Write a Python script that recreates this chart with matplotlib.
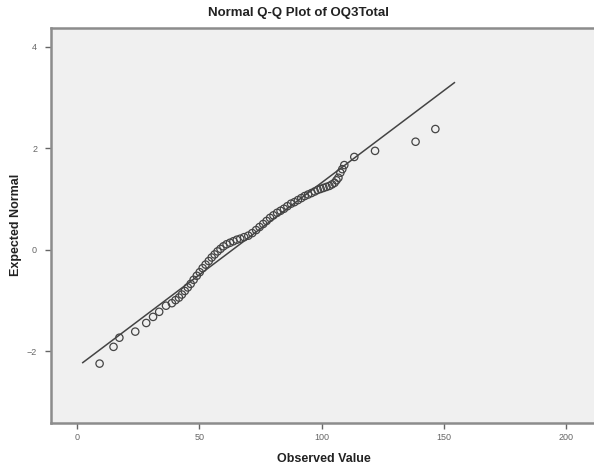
import numpy as np
import matplotlib
matplotlib.use("Agg")
from matplotlib import pyplot as plt

### DATA
observed = [9.1, 14.8, 17.2, 23.7, 28.2, 31.0, 33.5, 36.3,
            38.7, 40.2, 41.6, 42.8, 44.0, 45.2, 46.4, 47.6, 48.9, 50.1,
            51.3, 52.5, 53.8, 55.0, 56.2, 57.4, 58.6, 59.8, 61.1, 62.5,
            63.9, 65.3, 66.7, 68.3, 70.0, 71.6, 73.2, 74.6, 76.1, 77.5,
            78.9, 80.3, 81.8, 83.2, 84.6, 86.0, 87.5, 88.9, 90.3, 91.7,
            93.1, 94.5, 95.9, 97.2, 98.4, 99.6, 100.8, 102.0, 103.2, 104.3,
            105.3, 106.1, 106.9, 107.7, 108.5, 109.3, 113.4, 121.9, 138.5, 146.6]
expected = [-2.24, -1.91, -1.73, -1.61, -1.44, -1.32, -1.22, -1.10,
            -1.05, -0.99, -0.94, -0.88, -0.81, -0.74, -0.67, -0.59, -0.51, -0.44,
            -0.36, -0.29, -0.22, -0.15, -0.09, -0.03, 0.02, 0.07, 0.11, 0.14,
            0.17, 0.20, 0.22, 0.25, 0.28, 0.33, 0.39, 0.45, 0.51, 0.57,
            0.63, 0.68, 0.73, 0.77, 0.81, 0.86, 0.91, 0.94, 0.98, 1.02,
            1.06, 1.09, 1.12, 1.15, 1.18, 1.20, 1.22, 1.24, 1.26, 1.29,
            1.32, 1.37, 1.42, 1.52, 1.59, 1.67, 1.83, 1.95, 2.13, 2.38]

# reference line: mean / sd of the sample, drawn over this observed range
line_mean = 63.5
line_sd = 27.6
line_range = [2.2, 154.4]

x_ticks = [0, 50, 100, 150, 200]
y_ticks = [-2, 0, 2, 4]

### PLOT
plt.rcParams["font.family"] = ["Liberation Sans", "DejaVu Sans"]

fig = plt.figure(figsize=(5.94, 4.75), dpi=100)
ax = fig.add_axes([51 / 594, 1 - 423 / 475, 1 - 51 / 594 + 0.01, (423 - 28) / 475])
ax.set_facecolor("#f0f0f0")

lx = np.array(line_range)
ax.plot(lx, (lx - line_mean) / line_sd, color="#444444", linewidth=1.1, zorder=2)
ax.scatter(observed, expected, s=28, facecolors="none", edgecolors="#444444",
           linewidths=0.9, zorder=3)

ax.set_xlim(-10.8, 214)
ax.set_ylim(-3.41, 4.37)
ax.set_xticks(x_ticks)
ax.set_yticks(y_ticks)
ax.tick_params(axis="both", labelsize=6.5, colors="#666666", length=4, width=1)
ax.tick_params(axis="y", pad=6)

for s in ax.spines.values():
    s.set_color("#8c8c8c")
    s.set_linewidth(1.8)

fig.text(0.503, 1 - 13 / 475, "Normal Q-Q Plot of OQ3Total", ha="center", va="center",
         fontsize=9.5, fontweight="bold", color="#222222")
fig.text(324 / 594, 1 - 459 / 475, "Observed Value", ha="center", va="center",
         fontsize=9, fontweight="bold", color="#222222")
fig.text(16 / 594, 1 - 225 / 475, "Expected Normal", ha="center", va="center",
         rotation=90, fontsize=9, fontweight="bold", color="#222222")

fig.savefig("out.png", dpi=100)
